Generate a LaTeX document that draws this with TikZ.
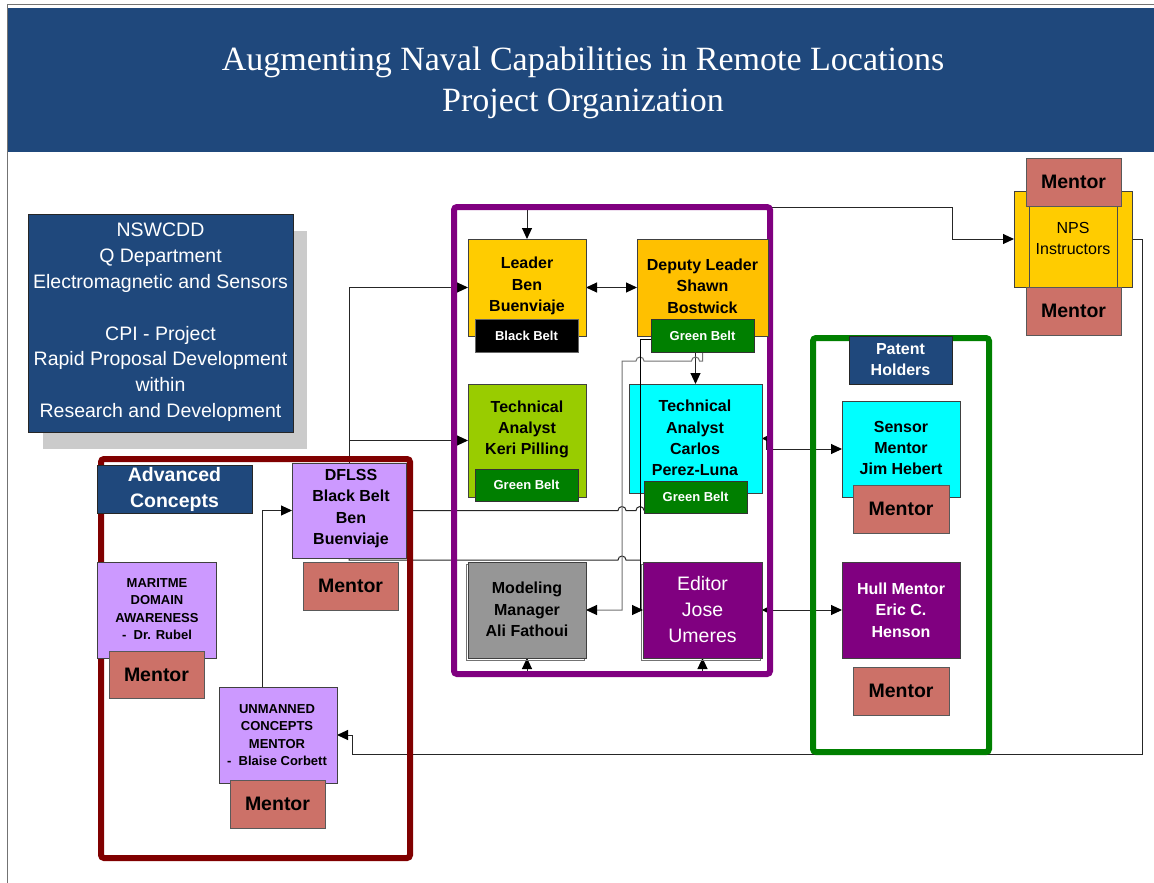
\documentclass[tikz,border=0pt]{standalone}
\usepackage{fontspec}
\setmainfont{Liberation Sans}
\newfontfamily\titlefont{Liberation Serif}
\usetikzlibrary{arrows.meta}

\pgfdeclarelayer{paper}
\pgfdeclarelayer{wires}
\pgfdeclarelayer{frames}
\pgfsetlayers{paper,wires,frames,main}

\definecolor{cNavy}{HTML}{1F487C}
\definecolor{cLeader}{HTML}{FFCC00}
\definecolor{cDeputy}{HTML}{FFC000}
\definecolor{cLime}{HTML}{99CC00}
\definecolor{cAqua}{HTML}{00FFFF}
\definecolor{cBelt}{HTML}{007F00}
\definecolor{cGrey}{HTML}{969696}
\definecolor{cPlum}{HTML}{800080}
\definecolor{cLilac}{HTML}{CC99FF}
\definecolor{cSalmon}{HTML}{CC7168}
\definecolor{cMaroon}{HTML}{800000}
\definecolor{cGreen}{HTML}{008000}
\definecolor{cShade}{HTML}{CBCBCB}

\tikzset{
  bx/.style={draw=black!75, line width=0.8pt, inner sep=0pt, outer sep=0pt},
  tb/.style={align=center, inner sep=0pt, font=\bfseries\fontsize{16}{21.3}\selectfont},
  ts/.style={align=center, inner sep=0pt, font=\bfseries\fontsize{13}{17.3}\selectfont},
  mentor/.style={bx, fill=cSalmon, draw=black!65, minimum width=95, minimum height=48,
    font=\bfseries\fontsize{19.5}{22}\selectfont},
  belt/.style={bx, fill=cBelt, draw=black!80, text=white, minimum width=103, minimum height=33,
    font=\bfseries\fontsize{13}{15}\selectfont},
  teamframe/.style={draw, line width=6pt, rounded corners=3pt, inner sep=0pt, outer sep=0pt},
  heading/.style={align=center, inner sep=0pt, text=white, font=\titlefont\fontsize{34}{41}\selectfont},
  wire/.style={draw=black!85, line width=1pt},
  arrowend/.style={-{Triangle[length=11pt,width=10pt,color=black]}},
  arrowboth/.style={{Triangle[length=11pt,width=10pt,color=black]}-{Triangle[length=11pt,width=10pt,color=black]}},
  smallboth/.style={{Triangle[length=6pt,width=6pt,color=black]}-{Triangle[length=11pt,width=10pt,color=black]}},
}

\begin{document}
\begin{tikzpicture}[x=1pt,y=-1pt]
\useasboundingbox (0,0) rectangle (1154,883);
\begin{pgfonlayer}{paper}
\fill[white] (0,0) rectangle (1154,883);
\end{pgfonlayer}

% page edge and heading band
\draw[black!55, line width=1pt] (7.5,883) -- (7.5,5) -- (1154,5);
\fill[cNavy] (8,8) rectangle (1154,152);
\node[heading] (title) at (583,83) {Augmenting Naval Capabilities in Remote Locations\\Project Organization};

% department block
\node[fill=cShade, inner sep=0pt, minimum width=264, minimum height=218] (nswshadow) at (175,340) {};
\node[bx, fill=cNavy, draw=black!85, minimum width=265, minimum height=218] (nsw) at (160.5,323) {};
\node[align=center, inner sep=0pt, text=white, font=\fontsize{19.5}{25.8}\selectfont] (nswtext) at (160.5,322.5)
  {NSWCDD\\Q Department\\Electromagnetic and Sensors\\[25.8pt]CPI - Project\\Rapid Proposal Development\\within\\Research and Development};

% group frames
\begin{pgfonlayer}{frames}
\node[teamframe, draw=cMaroon, minimum width=309, minimum height=399] (adv) at (255.5,658.5) {};
\node[teamframe, draw=cPlum, minimum width=316, minimum height=467] (ipt) at (612,440.5) {};
\node[teamframe, draw=cGreen, minimum width=176, minimum height=414] (pat) at (901,545) {};
\end{pgfonlayer}

% core team
\node[bx, fill=cLeader, minimum width=118, minimum height=97] (leader) at (527,287.5) {};
\node[tb] (leadertext) at (527,286) {Leader\\Ben\\Buenviaje};
\node[belt, fill=black, draw=black!60] (blackbelt) at (526.5,335.5) {Black Belt};

\node[bx, fill=cDeputy, minimum width=131, minimum height=97] (deputy) at (702.5,287.5) {};
\node[tb] (deputytext) at (702.5,286) {Deputy Leader\\Shawn\\Bostwick};
\node[belt] (deputygb) at (702.5,335.5) {Green Belt};

\node[bx, fill=cLime, minimum width=118, minimum height=113] (keri) at (527,440.5) {};
\node[tb] (keritext) at (527,429.5) {Technical\\Analyst\\Keri Pilling};
\node[belt, minimum height=32] (kerigb) at (526.5,485) {Green Belt};

\node[bx, fill=cAqua, minimum width=133, minimum height=109] (carlos) at (695.5,438.5) {};
\node[tb] (carlostext) at (695,438) {Technical\\Analyst\\Carlos\\Perez-Luna};
\node[belt, minimum height=32] (carlosgb) at (695.5,497) {Green Belt};

\node[bx, fill=cGrey, minimum width=118, minimum height=96] (modeling) at (527,610) {};
\node[tb] (modelingtext) at (527,609.5) {Modeling\\Manager\\Ali Fathoui};

\node[bx, fill=cPlum, minimum width=119, minimum height=96] (editor) at (702.5,610) {};
\node[align=center, inner sep=0pt, text=white, font=\fontsize{19.5}{26}\selectfont] (editortext) at (702.5,610) {Editor\\Jose\\Umeres};

\begin{pgfonlayer}{frames}
\draw[black!55, line width=0.8pt] ([xshift=-2pt,yshift=-2pt]modeling.north west) rectangle ([xshift=-2pt,yshift=-2pt]modeling.south east);
\draw[black!55, line width=0.8pt] ([xshift=-2pt,yshift=-2pt]editor.north west) rectangle ([xshift=-2pt,yshift=-2pt]editor.south east);
\end{pgfonlayer}

% advanced concepts group
\node[bx, fill=cNavy, draw=black!85, minimum width=155, minimum height=48, text=white,
  align=center, font=\bfseries\fontsize{19.5}{26}\selectfont] (advlabel) at (174.5,489) {Advanced\\Concepts};

\node[bx, fill=cLilac, minimum width=114, minimum height=95] (dflss) at (349,510.5) {};
\node[tb] (dflsstext) at (351,508.5) {DFLSS\\Black Belt\\Ben\\Buenviaje};
\node[mentor] (dflssmentor) at (350.5,586) {Mentor};

\node[bx, fill=cLilac, minimum width=119, minimum height=96] (maritime) at (156.5,610) {};
\node[ts] (maritimetext) at (157,609) {MARITME\\DOMAIN\\AWARENESS\\-\ \ Dr. Rubel};
\node[mentor, minimum height=47] (maritimementor) at (156.5,674.5) {Mentor};

\node[bx, fill=cLilac, minimum width=118, minimum height=96] (unmanned) at (278,735) {};
\node[ts] (unmannedtext) at (277,735) {UNMANNED\\CONCEPTS\\MENTOR\\-\ \ Blaise Corbett};
\node[mentor] (unmannedmentor) at (277.5,804) {Mentor};

% instructors
\node[bx, fill=cLeader, minimum width=118, minimum height=96] (nps) at (1073,239) {};
\draw[black!70, line width=0.8pt] ([xshift=-44pt]nps.north) -- ([xshift=-44pt]nps.south)
  ([xshift=44pt]nps.north) -- ([xshift=44pt]nps.south);
\node[align=center, inner sep=0pt, font=\fontsize{16}{21}\selectfont] (npstext) at (1073,238.5) {NPS\\Instructors};
\node[mentor] (npsmentortop) at (1073.5,182) {Mentor};
\node[mentor] (npsmentorbottom) at (1073.5,311) {Mentor};

% patent holders group
\node[bx, fill=cNavy, draw=black!85, minimum width=103, minimum height=48, text=white,
  align=center, font=\bfseries\fontsize{16}{21}\selectfont] (patlabel) at (900.5,360) {Patent\\Holders};
\node[bx, fill=cAqua, minimum width=118, minimum height=96] (sensor) at (901,449) {};
\node[tb] (sensortext) at (901,448) {Sensor\\Mentor\\Jim Hebert};
\node[mentor, minimum width=96] (sensormentor) at (901,509) {Mentor};
\node[bx, fill=cPlum, minimum width=118, minimum height=96] (hull) at (901,610) {};
\node[tb, text=white] (hulltext) at (901,610) {Hull Mentor\\Eric C.\\Henson};
\node[mentor, minimum width=96] (hullmentor) at (901,691) {Mentor};

% connectors
\begin{pgfonlayer}{wires}
\draw[wire, arrowend] (dflss.north) |- (leader.west);
\draw[wire, arrowend] (dflss.north) |- (keri.west);
\draw[wire] (dflss.east) -- (618,510.5) arc[start angle=180,end angle=0,radius=4pt]
  -- (636,510.5) arc[start angle=180,end angle=0,radius=4pt] -- (carlosgb.west |- dflss.east);
\draw[wire] (dflss.south) |- (618,560) arc[start angle=180,end angle=0,radius=4pt] -- (640,560);
\draw[wire, arrowboth] (leader.east) -- (deputy.west);
\draw[wire, arrowend] (ipt.north -| leader.north) -- (leader.north);
\draw[wire, arrowend] (ipt.south -| modeling.south) -- (modeling.south);
\draw[wire, arrowend] (ipt.south -| editor.south) -- (editor.south);
\draw[wire, arrowend] (deputygb.south -| carlos.north) -- (carlos.north);
\draw[wire, draw=black!55, arrowend] (deputygb.south) -- ++(0,9) -- (699.5,361)
  arc[start angle=0,end angle=180,radius=4pt] -- (644,361)
  arc[start angle=0,end angle=180,radius=4pt] -- (622,361) -- (622,610) -- (modeling.east);
\draw[wire, arrowend] (ipt.north east) -| (952,239) -- (nps.west);
\draw[wire, arrowend] (nps.east) -| (1142,754) -| (352,735) -- (unmanned.east);
\draw[wire, arrowend] ([xshift=-16pt]unmanned.north) |- (dflss.west);
\draw[wire, smallboth] (carlos.east) -- ++(4,0) |- (sensor.west);
\draw[wire, smallboth] (editor.east) -- (hull.west);
\end{pgfonlayer}
\draw[wire, draw=black, arrowend] ([yshift=-4pt]deputygb.west) -| (640,610) -- (editor.west);
\end{tikzpicture}
\end{document}
